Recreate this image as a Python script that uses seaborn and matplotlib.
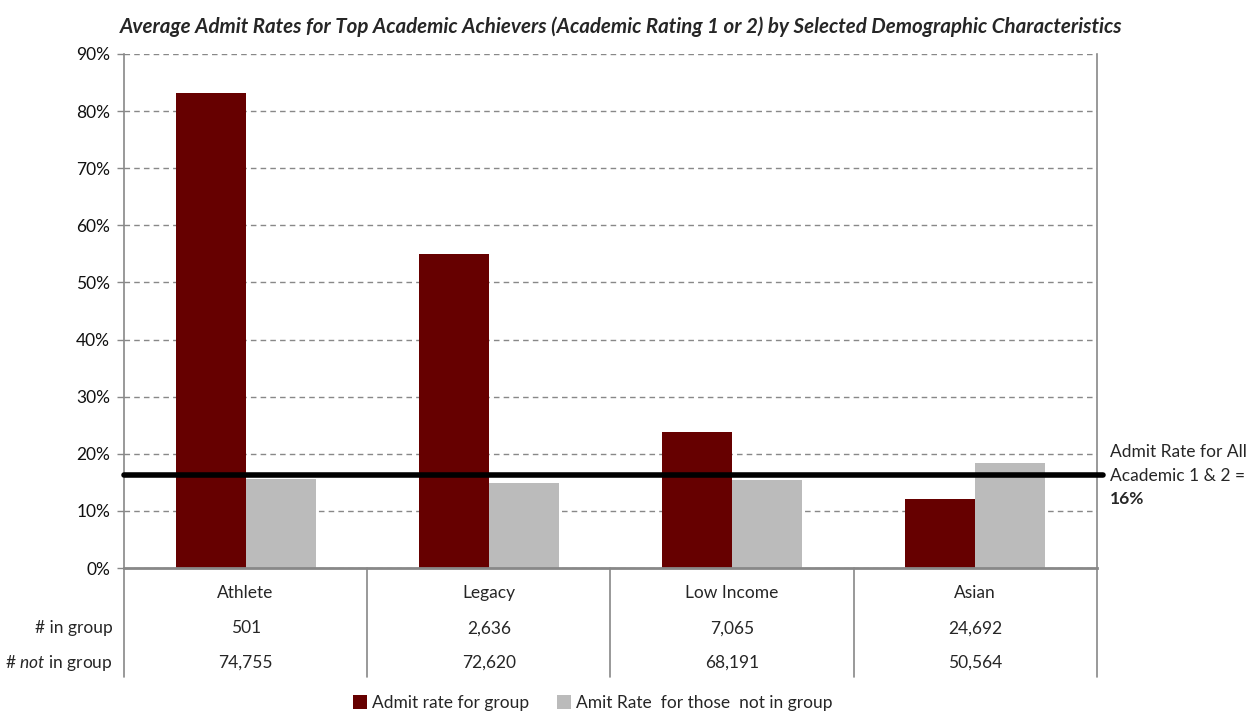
import numpy as np
import pandas as pd
import seaborn as sns
import matplotlib.pyplot as plt
from matplotlib.ticker import PercentFormatter, MultipleLocator

groups = ['Athlete', 'Legacy', 'Low Income', 'Asian']
admitGroup = [0.832, 0.549, 0.239, 0.121]
admitNotGroup = [0.155, 0.148, 0.154, 0.184]
inGroup = ['501', '2,636', '7,065', '24,692']
notInGroup = ['74,755', '72,620', '68,191', '50,564']
seriesNames = ['Admit rate for group', 'Amit Rate  for those  not in group']
overallRate = 0.163

FONT = 'Lato'
RED = '#660000'
GREY = '#BBBBBB'

sns.set_style('white')
plt.rcParams['font.family'] = [FONT, 'DejaVu Sans']
plt.rcParams['mathtext.fontset'] = 'custom'
plt.rcParams['mathtext.rm'] = FONT
plt.rcParams['mathtext.it'] = FONT + ':italic'

df = pd.DataFrame({
    'group': groups * 2,
    'rate': admitGroup + admitNotGroup,
    'series': [seriesNames[0]] * 4 + [seriesNames[1]] * 4,
})

fig = plt.figure(figsize=(12.55, 7.17), dpi=100)
ax = fig.add_axes([0.0988, 0.2078, 0.7752, 0.7169])

sns.barplot(data=df, x='group', y='rate', hue='series', palette=[RED, GREY],
            width=0.575, saturation=1, gap=0, linewidth=0, ax=ax, legend=True)

ax.set_xlim(-0.5, 3.5)
ax.set_ylim(0, 0.9)
ax.yaxis.set_major_locator(MultipleLocator(0.1))
ax.yaxis.set_major_formatter(PercentFormatter(1.0, decimals=0))
ax.grid(axis='y', color='#888888', linestyle=(0, (4, 3)), linewidth=1)
ax.set_axisbelow(True)
ax.set_xlabel('')
ax.set_ylabel('')
ax.set_xticks([])
ax.tick_params(axis='y', left=True, length=5, width=1, color='#888888',
               labelsize=12.5, pad=5, labelcolor='#111111')

for side in ['left', 'right', 'bottom']:
    ax.spines[side].set_color('#888888')
    ax.spines[side].set_linewidth(1.2)
ax.spines['top'].set_visible(False)
ax.spines['bottom'].set_linewidth(2)

# overall admit rate line, running a bit past the frame
ax.axhline(overallRate, xmin=0, xmax=1.006, color='black', linewidth=4,
           clip_on=False, zorder=5)

# table under the chart
tr = ax.get_xaxis_transform()
for i, g in enumerate(groups):
    ax.text(i, -0.048, g, transform=tr, ha='center', va='center', fontsize=12.5)
    ax.text(i, -0.117, inGroup[i], transform=tr, ha='center', va='center', fontsize=12.5)
    ax.text(i, -0.185, notInGroup[i], transform=tr, ha='center', va='center', fontsize=12.5)
for xb in np.arange(-0.5, len(groups), 1.0):
    ax.plot([xb, xb], [0, -0.212], transform=tr, color='#888888', linewidth=1.2,
            clip_on=False)
ax.text(-0.012, -0.117, '# in group', transform=ax.transAxes, ha='right',
        va='center', fontsize=12.5)
ax.text(-0.012, -0.185, r'# $\mathit{not}$ in group', transform=ax.transAxes,
        ha='right', va='center', fontsize=12.5)

# annotation on the right
ax.text(1.0134, 0.2257, 'Admit Rate for All', transform=ax.transAxes,
        ha='left', va='center', fontsize=12.5)
ax.text(1.0134, 0.179, 'Academic 1 & 2 =', transform=ax.transAxes,
        ha='left', va='center', fontsize=12.5)
ax.text(1.0134, 0.134, '16%', transform=ax.transAxes, ha='left',
        va='center', fontsize=12.5, fontweight='bold')

fig.suptitle('Average Admit Rates for Top Academic Achievers (Academic Rating 1 or 2) '
             'by Selected Demographic Characteristics',
             x=0.495, y=0.977, fontsize=14.8, fontweight='bold', fontstyle='italic')

handles, labels = ax.get_legend_handles_labels()
ax.get_legend().remove()
fig.legend(handles, labels, loc='center', bbox_to_anchor=(0.4725, 0.0195),
           ncol=2, frameon=False, fontsize=12.5, handlelength=0.8,
           handleheight=0.8, handletextpad=0.3, columnspacing=1.6)

fig.savefig('out.png', dpi=100)
